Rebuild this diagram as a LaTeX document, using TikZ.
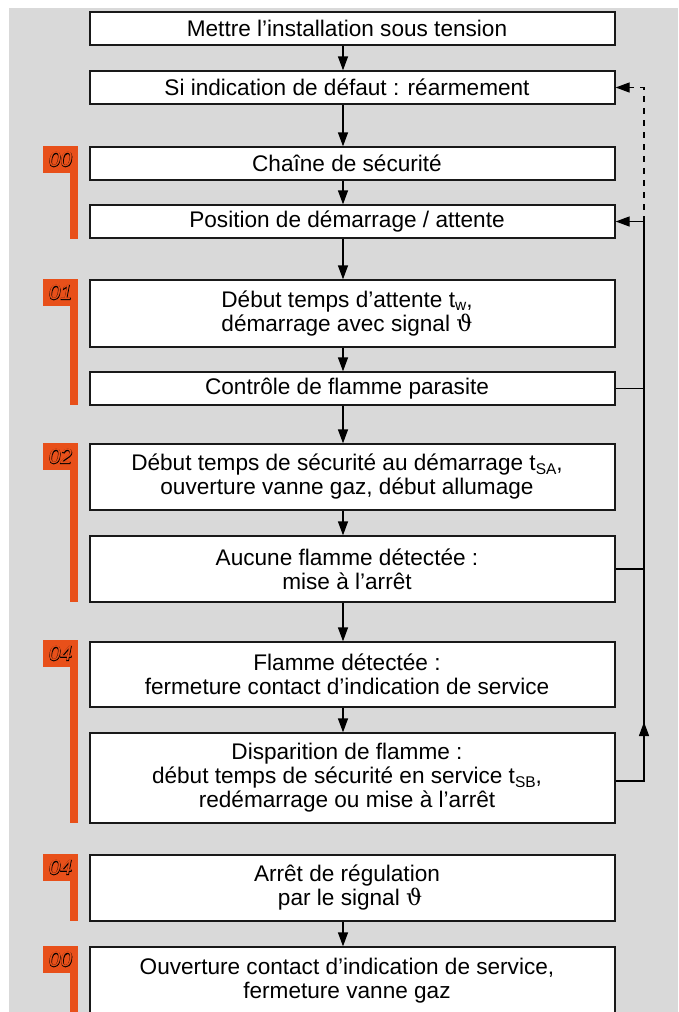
\documentclass[tikz,border=0pt]{standalone}
\usepackage{fontspec}
\setmainfont{Liberation Sans}
\newfontfamily\thetafont{DejaVu Serif}
\usetikzlibrary{arrows.meta}
\definecolor{bggrey}{HTML}{D9D9D9}
\definecolor{badgeorange}{HTML}{E8501A}
\tikzset{
  box/.style={draw=black!90, line width=1.3pt, fill=white, minimum width=525pt, inner sep=0pt},
  txt/.style={inner sep=0pt, align=center, font=\fontsize{22.6}{24}\selectfont},
  conn/.style={draw=black, line width=1.3pt},
  arr/.style={conn, -{Triangle[length=14pt,width=10pt]}},
  fb/.style={conn, dash pattern=on 6pt off 6pt},
  badge/.style={fill=badgeorange, minimum width=35pt, minimum height=27pt, inner sep=0pt, text=black,
    font=\itshape\fontsize{21}{21}\selectfont},
  bar/.style={fill=badgeorange},
}
\newcommand{\hollow}[1]{\makebox[0pt][l]{\addfontfeatures{FakeBold=4}#1}{\color{badgeorange}#1}}
\newcommand{\flowbox}[4]{%
  \node[box, minimum height=#3] (#1) at (352.5,#2) {};
  \node[txt] (#1t) at ([xshift=-5.5pt]#1.center) {#4};}
\newcommand{\subs}[2]{\raisebox{#1}{\fontsize{15.5}{15.5}\selectfont #2}}
\newcommand{\thet}{{\thetafont ϑ}}
\begin{document}
\begin{tikzpicture}[x=1pt,y=-1pt]
\useasboundingbox (0,0) rectangle (678,1012);
\fill[bggrey] (9,8) rectangle (678,1012);

% orange bars
\fill[bar] (70,159) rectangle (78,239);
\fill[bar] (70,292) rectangle (78,405);
\fill[bar] (70,456) rectangle (78,602);
\fill[bar] (70,653) rectangle (78,823);
\fill[bar] (70,867) rectangle (78,921);
\fill[bar] (70,959) rectangle (78,1014);

% badges
\node[badge] (g1) at (60.5,159.5) {\hollow{00}};
\node[badge] (g2) at (60.5,292.5) {\hollow{01}};
\node[badge] (g3) at (60.5,456.5) {\hollow{02}};
\node[badge] (g4) at (60.5,653.5) {\hollow{04}};
\node[badge] (g5) at (60.5,867.5) {\hollow{04}};
\node[badge] (g6) at (60.5,959.5) {\hollow{00}};

% boxes
\flowbox{b1}{28.5}{33pt}{Mettre l’installation sous tension}
\flowbox{b2}{87.5}{33pt}{Si indication de défaut : réarmement}
\flowbox{b3}{163.5}{33pt}{Chaîne de sécurité}
\flowbox{b4}{221.5}{33pt}{Position de démarrage / attente}
\flowbox{b5}{313.5}{67pt}{Début temps d’attente t\subs{-3.5pt}{w},\\ démarrage avec signal \thet}
\flowbox{b6}{388.5}{33pt}{Contrôle de flamme parasite}
\flowbox{b7}{477}{66pt}{Début temps de sécurité au démarrage t\subs{-4pt}{SA},\\ ouverture vanne gaz, début allumage}
\flowbox{b8}{569}{66pt}{Aucune flamme détectée :\\ mise à l’arrêt}
\flowbox{b9}{674.5}{65pt}{Flamme détectée :\\ fermeture contact d’indication de service}
\flowbox{b10}{778}{90pt}{Disparition de flamme :\\ début temps de sécurité en service t\subs{-4pt}{SB},\\ redémarrage ou mise à l’arrêt}
\flowbox{b11}{888}{66pt}{Arrêt de régulation\\ \ par le signal \thet}
\flowbox{b12}{980.5}{67pt}{Ouverture contact d’indication de service,\\ fermeture vanne gaz}

% main arrows
\coordinate (ax) at (343,0);
\foreach \a/\b in {b1/b2,b2/b3,b3/b4,b4/b5,b5/b6,b6/b7,b7/b8,b8/b9,b9/b10,b11/b12}
  \draw[arr] (\a.south -| ax) -- (\b.north -| ax);

% feedback lines
\coordinate (rx) at (644,0);
\path ([yshift=-3pt]b10.east) coordinate (e10);
\coordinate (up) at (644,722);
\draw[conn] (e10) -- (e10 -| rx) -- (b4.east -| rx);
\draw[arr] (e10 -| rx) -- (up);
\draw[arr] (b4.east -| rx) -- (b4.east);
\draw[conn] (b6.east) -- (b6.east -| rx);
\draw[conn] (b8.east) -- (b8.east -| rx);
\draw[fb] (b4.east -| rx) -- (b2.east -| rx) -- ([xshift=14pt]b2.east);
\draw[arr] ([xshift=15pt]b2.east) -- (b2.east);
\end{tikzpicture}
\end{document}
